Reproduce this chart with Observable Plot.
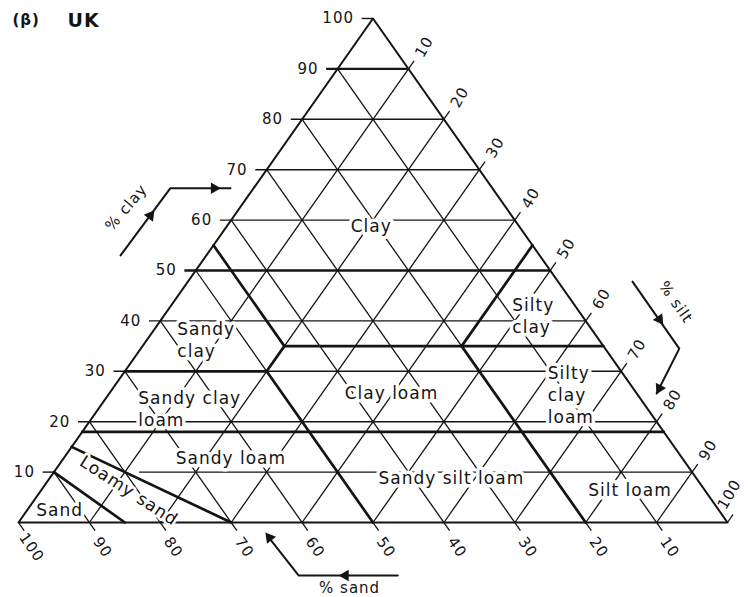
<!DOCTYPE html>
<html>
<head>
<meta charset="utf-8">
<script src="https://cdn.jsdelivr.net/npm/d3@7"></script>
<script src="https://cdn.jsdelivr.net/npm/@observablehq/plot@0.6"></script>
<style>
html,body{margin:0;padding:0;background:#fff;}
</style>
</head>
<body>
<div id="chart"></div>
<script>
// ---------------- data ----------------
const gridLevels = [10, 20, 30, 40, 50, 60, 70, 80, 90];
const tickValues = [10, 20, 30, 40, 50, 60, 70, 80, 90, 100];
const clayTickLabels = ["10", "20", "30", "40", "50", "60", "70", "80", "90", "100"];
const sandTickLabels = ["10", "20", "30", "40", "50", "60", "70", "80", "90", "100"];
const siltTickLabels = ["10", "20", "30", "40", "50", "60", "70", "80", "90", "100"];

// texture class labels, positioned by composition (% sand, % silt, % clay)
const classNames = ["Clay", "Sandy\nclay", "Sandy clay\nloam", "Clay loam", "Sandy loam",
  "Sandy silt loam", "Silt loam", "Silty\nclay", "Silty\nclay\nloam", "Sand", "Loamy sand"];
const classSand = [20.9, 59.4, 71.7, 34.6, 63.7, 34.6, 10.6, 9.8, 12.6, 93.0, 81.3];
const classSilt = [20.4, 4.2, 5.5, 39.8, 23.6, 56.7, 83.1, 49.1, 61.9, 4.6, 12.4];
const classClay = [58.7, 36.4, 22.8, 25.6, 12.7, 8.7, 6.3, 41.1, 25.5, 2.4, 6.3];

// class boundaries, as polylines of [% sand, % silt, % clay]
const boundaries = [
  [[82, 0, 18], [0, 82, 18]],
  [[45, 20, 35], [0, 65, 35]],
  [[70, 0, 30], [50, 20, 30]],
  [[45, 0, 55], [45, 20, 35], [50, 20, 30], [50, 50, 0]],
  [[20, 45, 35], [20, 80, 0]],
  [[0, 45, 55], [20, 45, 35]],
  [[90, 0, 10], [85, 15, 0]],
  [[85, 0, 15], [70, 30, 0]]
];

const titleParts = ["(β)", "UK"];
const axisTitles = ["% clay", "% silt", "% sand"];

// ---------------- ternary projection ----------------
const X = (sand, silt, clay) => silt + clay / 2;
const Y = (sand, silt, clay) => clay;

const ink = "#141414";

// horizontal (clay) grid; the 10 % line is interrupted inside the sand / loamy sand bands
const hLines = gridLevels.flatMap(c => c === 10
  ? [{c, x1: X(100 - c, 0, c) - 1.6, x2: X(100 - c, 0, c)}, {c, x1: X(78, 12, c), x2: X(0, 100 - c, c)}]
  : [{c, x1: X(100 - c, 0, c) - 1.6, x2: X(0, 100 - c, c)}]);
const apexTick = [{c: 100, x1: X(0, 0, 100) - 1.6, x2: X(0, 0, 100)}];
const sandLines = [...gridLevels, 100].map(s => ({
  x1: X(s, 0, 100 - s), y1: Y(s, 0, 100 - s),
  x2: X(s, 100 - s, 0) + 0.8, y2: Y(s, 100 - s, 0) - 1.6
}));
const siltLines = [...gridLevels, 100].map(t => ({
  x1: X(100 - t, t, 0), y1: Y(100 - t, t, 0),
  x2: X(0, t, 100 - t) + 0.8, y2: Y(0, t, 100 - t) + 1.6
}));
const outline = [[100, 0, 0], [0, 100, 0], [0, 0, 100], [100, 0, 0]].map(p => ({x: X(...p), y: Y(...p)}));

const bPts = boundaries.flatMap((line, id) => line.map(p => ({id, x: X(...p), y: Y(...p)})));

const labels = classNames.map((name, i) => ({
  name, x: X(classSand[i], classSilt[i], classClay[i]), y: Y(classSand[i], classSilt[i], classClay[i])
}));
const startAnchored = new Set(["Sandy\nclay", "Sandy clay\nloam", "Silty\nclay", "Silty\nclay\nloam"]);

// annotation arrows (in plot coordinates)
const arrows = [
  {id: "clay", pts: [[14.4, 53.0], [21.4, 66.3], [29.9, 66.3]], heads: [[18.6, 60.9, 37], [27.6, 66.3, 90]]},
  {id: "silt", pts: [[86.6, 47.8], [93.2, 34.5], [90.0, 25.6]], heads: [[90.4, 40.3, 145], [90.4, 26.6, 207]]},
  {id: "sand", pts: [[53.5, -10.5], [39.5, -10.5], [35.1, -2.6]], heads: [[46.1, -10.5, 270], [35.4, -3.0, 322]]}
];
const arrowPts = arrows.flatMap(a => a.pts.map(p => ({id: a.id, x: p[0], y: p[1]})));
const arrowHeads = arrows.flatMap(a => a.heads.map(h => ({x: h[0], y: h[1], r: h[2]})));
const axisTitlePos = [
  {text: axisTitles[0], x: 15.2, y: 62.5, rotate: -50},
  {text: axisTitles[1], x: 92.7, y: 43.7, rotate: 55},
  {text: axisTitles[2], x: 46.7, y: -13.1, rotate: 0}
];

const siltIdx = tickValues.map((t, i) => i);
const siltInner = siltIdx.filter(i => tickValues[i] < 100);
const siltCorner = siltIdx.filter(i => tickValues[i] === 100);

const chart = Plot.plot({
  width: 748,
  height: 597,
  marginLeft: 18,
  marginRight: 21,
  marginTop: 18,
  marginBottom: 75,
  x: {domain: [0, 100], axis: null},
  y: {domain: [0, 100], axis: null},
  style: {fontFamily: "DejaVu Sans, sans-serif", fontSize: "15px", background: "#fff", color: ink, letterSpacing: "1px", overflow: "visible"},
  marks: [
    // grid
    Plot.link(hLines.filter(d => d.c !== 50 && d.c !== 90), {x1: "x1", x2: "x2", y1: "c", y2: "c", stroke: ink, strokeWidth: 1.4}),
    Plot.link(hLines.filter(d => d.c === 50 || d.c === 90), {x1: "x1", x2: "x2", y1: "c", y2: "c", stroke: ink, strokeWidth: 2.3}),
    Plot.link(apexTick, {x1: "x1", x2: "x2", y1: "c", y2: "c", stroke: ink, strokeWidth: 1.4}),
    Plot.link(sandLines, {x1: "x1", y1: "y1", x2: "x2", y2: "y2", stroke: ink, strokeWidth: 1.3}),
    Plot.link(siltLines, {x1: "x1", y1: "y1", x2: "x2", y2: "y2", stroke: ink, strokeWidth: 1.3}),
    // outline
    Plot.line(outline, {x: "x", y: "y", stroke: ink, strokeWidth: 2}),
    // class boundaries
    Plot.line(bPts, {x: "x", y: "y", z: "id", stroke: ink, strokeWidth: 2.7}),
    // tick labels
    Plot.text(tickValues, {x: c => X(100 - c, 0, c), y: c => Y(100 - c, 0, c), text: (d, i) => clayTickLabels[i], textAnchor: "end", dx: -19, fill: ink}),
    Plot.text(tickValues, {x: s => X(s, 100 - s, 0), y: s => Y(s, 100 - s, 0), text: (d, i) => sandTickLabels[i], rotate: 55, dx: 13, dy: 25, fill: ink}),
    Plot.text(siltInner, {x: i => X(0, tickValues[i], 100 - tickValues[i]), y: i => Y(0, tickValues[i], 100 - tickValues[i]), text: i => siltTickLabels[i], rotate: -60, dx: 16, dy: -22, fill: ink}),
    Plot.text(siltCorner, {x: i => X(0, tickValues[i], 100 - tickValues[i]), y: i => Y(0, tickValues[i], 100 - tickValues[i]), text: i => siltTickLabels[i], rotate: -60, dx: 2, dy: -28, fill: ink, letterSpacing: "0px"}),
    // class labels
    Plot.text(labels.filter(d => !startAnchored.has(d.name) && d.name !== "Loamy sand"), {x: "x", y: "y", text: "name", fill: ink, stroke: "#fff", strokeWidth: 7, fontSize: 17}),
    Plot.text(labels.filter(d => startAnchored.has(d.name)), {x: "x", y: "y", text: "name", textAnchor: "start", lineHeight: 1.3, fill: ink, stroke: "#fff", strokeWidth: 7, fontSize: 17}),
    Plot.text(labels.filter(d => d.name === "Loamy sand"), {x: "x", y: "y", text: "name", rotate: 33, fill: ink, stroke: "#fff", strokeWidth: 5, fontSize: 17}),
    // axis titles and arrows
    Plot.line(arrowPts, {x: "x", y: "y", z: "id", stroke: ink, strokeWidth: 2}),
    Plot.dot(arrowHeads, {x: "x", y: "y", rotate: "r", symbol: "triangle2", r: 5.5, fill: ink, stroke: "none"}),
    Plot.text(axisTitlePos, {x: "x", y: "y", text: "text", rotate: "rotate", fill: ink, fontSize: 15}),
    // title
    Plot.text([titleParts[0]], {frameAnchor: "top-left", text: d => d, textAnchor: "start", lineAnchor: "middle", dx: -6, dy: 2, fontWeight: "bold", fontSize: 15, fill: ink}),
    Plot.text([titleParts[1]], {frameAnchor: "top-left", text: d => d, textAnchor: "start", lineAnchor: "middle", dx: 49, dy: 2, fontWeight: "bold", fontSize: 19, fill: ink})
  ]
});
document.getElementById("chart").appendChild(chart);
</script>
</body>
</html>
